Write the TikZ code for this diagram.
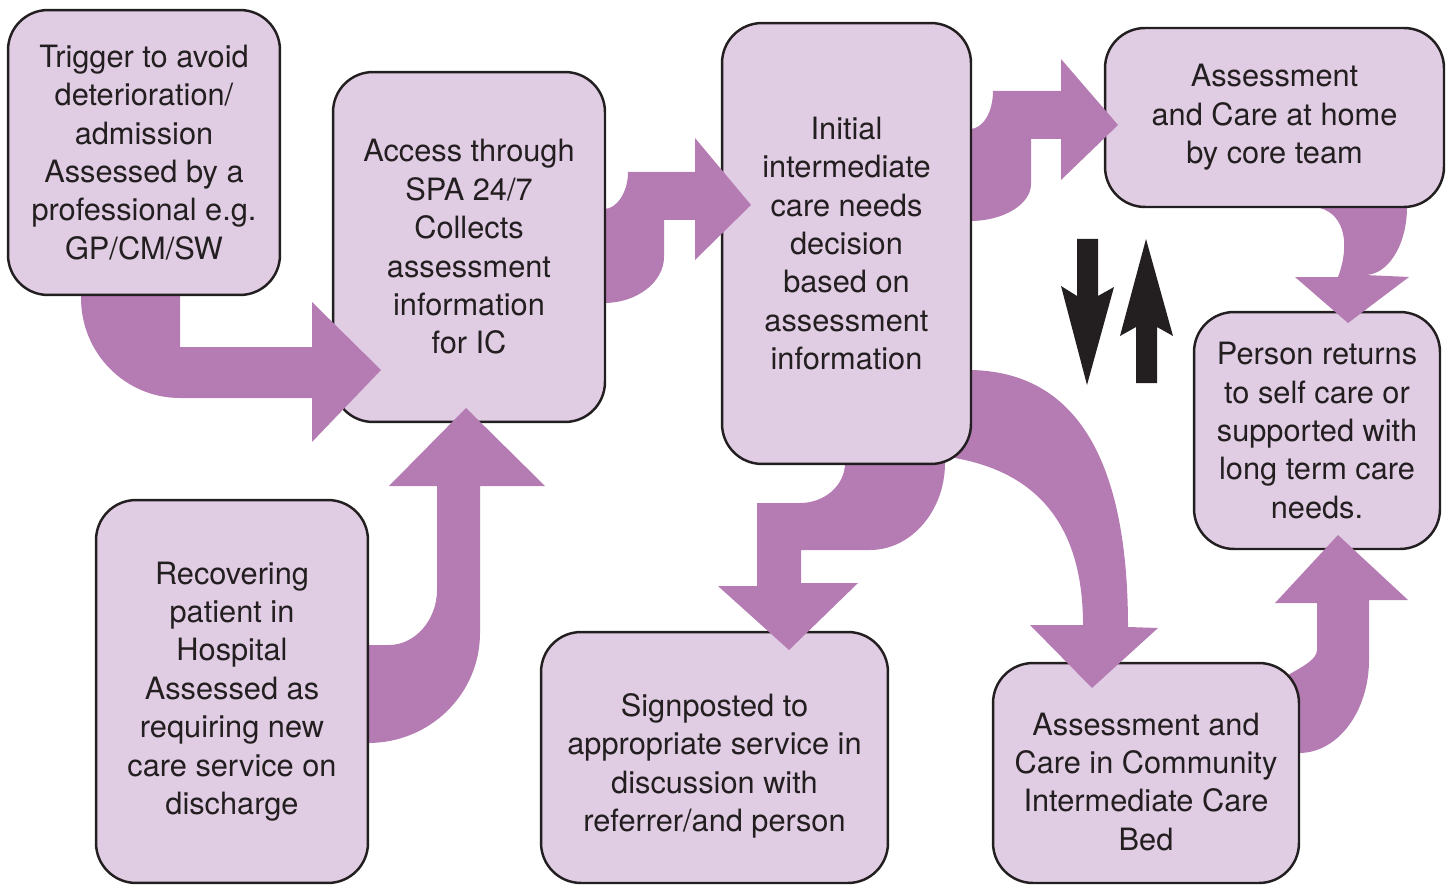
\documentclass[tikz,border=0pt]{standalone}
\usepackage{fontspec}
\setmainfont{TeX Gyre Heros}
\definecolor{icfill}{HTML}{E0CCE3}
\definecolor{icpurple}{HTML}{B57CB3}
\definecolor{icline}{HTML}{231F20}
\tikzset{
  icbox/.style={draw=icline, fill=icfill, line width=1.4pt, rounded corners=0.8cm,
    align=center, text=icline, inner sep=0pt,
    font=\fontsize{17.5}{21.85}\selectfont},
  bentarrow/.style={fill=icpurple, draw=none},
  blackarrow/.style={fill=icline, draw=none}
}
\newcommand{\lowtext}{\rule{0pt}{0.8cm}}
\begin{document}
\begin{tikzpicture}[x=0.02cm,y=-0.02cm]
  \useasboundingbox (0,0) rectangle (1453,885);

  \node[icbox, minimum width=4.92cm, minimum height=4.74cm] (returns) at (1317,430.5)
    {Person returns\\to self care or\\supported with\\long term care\\needs.};
  \fill[bentarrow] (1320,195) -- (1320,208) .. controls (1345,215) and (1350,245) .. (1338,277)
    -- (1295,277) -- (1348,323) -- (1409,277) -- (1365,275)
    .. controls (1388,275) and (1407,245) .. (1407,207) -- (1407,195) -- cycle;
  \node[icbox, minimum width=6.78cm, minimum height=3.58cm] (home) at (1274.5,117.5)
    {Assessment\\and Care at home\\by core team};
  \fill[bentarrow] (955,129) -- (970,129) .. controls (983,129) and (993,112) .. (993,91)
    -- (1061,91) -- (1061,59) -- (1118,125) -- (1061,180) -- (1061,139) -- (1031,139)
    -- (1031,184) .. controls (1031,204) and (1004,221) .. (970,221) -- (955,221) -- cycle;
  \fill[bentarrow] (1275,603) -- (1317,603) -- (1317,650) .. controls (1317,660) and (1300,668) .. (1288,675)
    -- (1270,690) -- (1280,753) -- (1299,753) .. controls (1338,753) and (1369,711) .. (1369,660)
    -- (1369,600) -- (1408,600) -- (1338,535) -- cycle;
  \node[icbox, minimum width=6.12cm, minimum height=4.4cm] (bed) at (1146,773)
    {\lowtext Assessment and\\Care in Community\\Intermediate Care\\Bed};
  \fill[bentarrow] (960,370) -- (971,370) .. controls (1070,372) and (1128,450) .. (1128,627)
    -- (1158,628) -- (1092,688) -- (1030,625) -- (1083,625)
    .. controls (1083,540) and (1050,475) .. (955,458) -- (940,440) -- cycle;
  \node[icbox, minimum width=6.94cm, minimum height=5.02cm] (signpost) at (714.5,757.5)
    {\lowtext Signposted to\\appropriate service in\\discussion with\\referrer/and person};
  \fill[bentarrow] (845,450) -- (845,463) .. controls (845,485) and (825,503) .. (800,503)
    -- (757,503) -- (757,586) -- (718,586) -- (789,650) -- (858,583) -- (801,583)
    -- (801,550) -- (870,550) .. controls (911,550) and (945,511) .. (945,463) -- (945,450) -- cycle;
  \node[icbox, minimum width=4.98cm, minimum height=8.82cm] (decision) at (846.5,243.5)
    {Initial\\intermediate\\care needs\\decision\\based on\\assessment\\information};
  \fill[bentarrow] (590,209) -- (604,209) .. controls (617,209) and (628,192) .. (628,172)
    -- (695,172) -- (695,138) -- (751,205) -- (695,260) -- (695,220) -- (664,220)
    -- (664,257) .. controls (664,282) and (637,303) .. (604,303) -- (590,303) -- cycle;
  \node[icbox, minimum width=5.44cm, minimum height=7cm] (access) at (469,247)
    {Access through\\SPA 24/7\\Collects\\assessment\\information\\for IC};
  \fill[bentarrow] (81,280) -- (81,298) .. controls (81,353) and (125,398) .. (180,398)
    -- (312,398) -- (312,442) -- (381,370) -- (312,302) -- (312,347) -- (180,347) -- (180,280) -- cycle;
  \fill[bentarrow] (355,645) -- (389,645) .. controls (415,645) and (437,620) .. (437,590)
    -- (437,486) -- (389,486) -- (466,408) -- (545,486) -- (480,486) -- (480,633)
    .. controls (480,694) and (430,743) .. (368,743) -- (355,743) -- cycle;
  \node[icbox, minimum width=5.44cm, minimum height=5.7cm] (trigger) at (144,152.5)
    {Trigger to avoid\\deterioration/\\admission\\Assessed by a\\professional e.g.\\GP/CM/SW};
  \node[icbox, minimum width=5.44cm, minimum height=7.66cm] (hospital) at (232,691.5)
    {Recovering\\patient in\\Hospital\\Assessed as\\requiring new\\care service on\\discharge};

  \fill[blackarrow] (1077,239) -- (1098,239) -- (1098,296) -- (1114,287) -- (1087,385)
    -- (1061,286) -- (1077,296) -- cycle;
  \fill[blackarrow] (1136,383) -- (1157,383) -- (1157,327) -- (1173,336) -- (1146,239)
    -- (1120,336) -- (1136,327) -- cycle;
\end{tikzpicture}
\end{document}
